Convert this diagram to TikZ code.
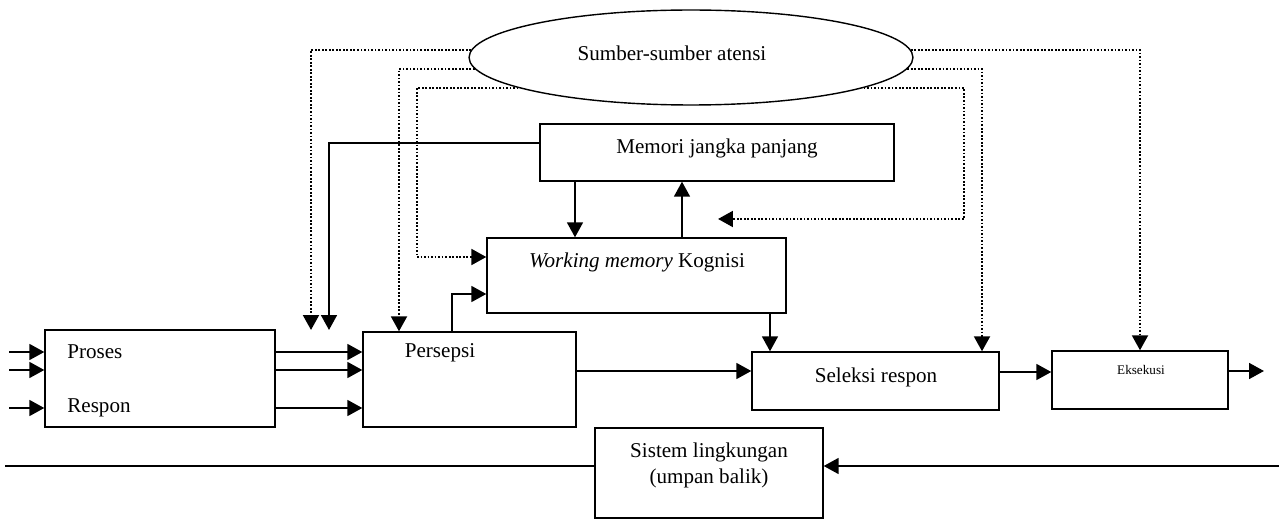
\documentclass[tikz,border=0pt]{standalone}
\usepackage{fontspec}
\setmainfont{Liberation Serif}
\usetikzlibrary{arrows.meta,shapes.geometric}
\begin{document}
\begin{tikzpicture}[
  x=0.02cm, y=-0.02cm,
  box/.style={draw, line width=0.8pt, inner sep=0pt},
  note/.style={font=\fontsize{12}{15}\selectfont, inner sep=0pt, align=center},
  flow/.style={line width=1.2pt, -{Triangle[length=8.5pt,width=9pt]}},
  attn/.style={line width=1.4pt, dash pattern=on 1pt off 1pt, -{Triangle[length=8.5pt,width=9pt]}},
  plain/.style={line width=0.8pt}
]
\useasboundingbox (0,0) rectangle (1279,520);

\node[box, ellipse, minimum width=8.88cm, minimum height=1.9cm] (atensi) at (691,57.5) {};
\node[note] (atensiText) at (672,53) {Sumber-sumber atensi};

\node[box, minimum width=7.08cm, minimum height=1.14cm] (memori) at (717,152.5) {};
\node[note] (memoriText) at (717,148) {Memori jangka panjang};
\node[box, minimum width=5.98cm, minimum height=1.5cm] (wm) at (636.5,275.5) {};
\node[note] (wmText) at (637,262) {\textit{Working memory} Kognisi};

\node[box, minimum width=4.6cm, minimum height=1.94cm] (proses) at (160,378.5) {};
\node[note, anchor=west] (prosesText) at (67,352) {Proses};
\node[note, anchor=west] (responText) at (67,408) {Respon};
\node[box, minimum width=4.26cm, minimum height=1.9cm] (persepsi) at (469.5,379.5) {};
\node[note] (persepsiText) at (440,353) {Persepsi};
\node[box, minimum width=4.94cm, minimum height=1.16cm] (seleksi) at (875.5,381) {};
\node[note] (seleksiText) at (876,377) {Seleksi respon};
\node[box, minimum width=3.52cm, minimum height=1.16cm] (eksekusi) at (1140,380) {};
\node[note, font=\fontsize{7.5}{9}\selectfont] (eksekusiText) at (1141,370) {Eksekusi};
\node[box, minimum width=4.56cm, minimum height=1.8cm] (sistem) at (709,473) {};
\node[note] (sistemText) at (709,465.5) {Sistem lingkungan\\(umpan balik)};

\coordinate (drop1) at (311,330);
\coordinate (drop2) at (329,330);
\coordinate (wmIn) at (718,219);
\coordinate (out) at (1264,371);
\coordinate (fbIn) at (1279,466);
\coordinate (fbOut) at (5,466);

\foreach \y in {352,370,408} {
  \coordinate (in\y) at (9,\y);
  \draw[flow] (in\y) -- (proses.west |- in\y);
  \draw[flow] (proses.east |- in\y) -- (persepsi.west |- in\y);
}
\draw[flow] (persepsi.east |- 0,371) -- (seleksi.west |- 0,371);
\draw[flow] (seleksi.east |- 0,372) -- (eksekusi.west |- 0,372);
\draw[flow] (eksekusi.east |- out) -- (out);
\draw[flow] (fbIn) -- (sistem.east |- fbIn);
\draw[plain] (sistem.west |- fbIn) -- (fbOut);

\draw[flow] (memori.south -| 575,0) -- (wm.north -| 575,0);
\draw[flow] (wm.north -| 682,0) -- (memori.south -| 682,0);
\draw[flow] (wm.south -| 770,0) -- (seleksi.north -| 770,0);
\draw[flow] (persepsi.north -| 452,0) |- (wm.west |- 0,294);
\draw[flow] (memori.west |- 0,143) -| (drop2);

\draw[attn] (atensi.178) -| (drop1);
\draw[attn] (atensi.183) -| (persepsi.north -| 399,0);
\draw[attn] (atensi.190) -| (417,257) -- (wm.west |- 0,257);
\draw[attn] (atensi.2) -| (eksekusi.north);
\draw[attn] (atensi.-3) -| (seleksi.north -| 982,0);
\draw[attn] (atensi.-10) -| (964,219) -- (wmIn);
\end{tikzpicture}
\end{document}
